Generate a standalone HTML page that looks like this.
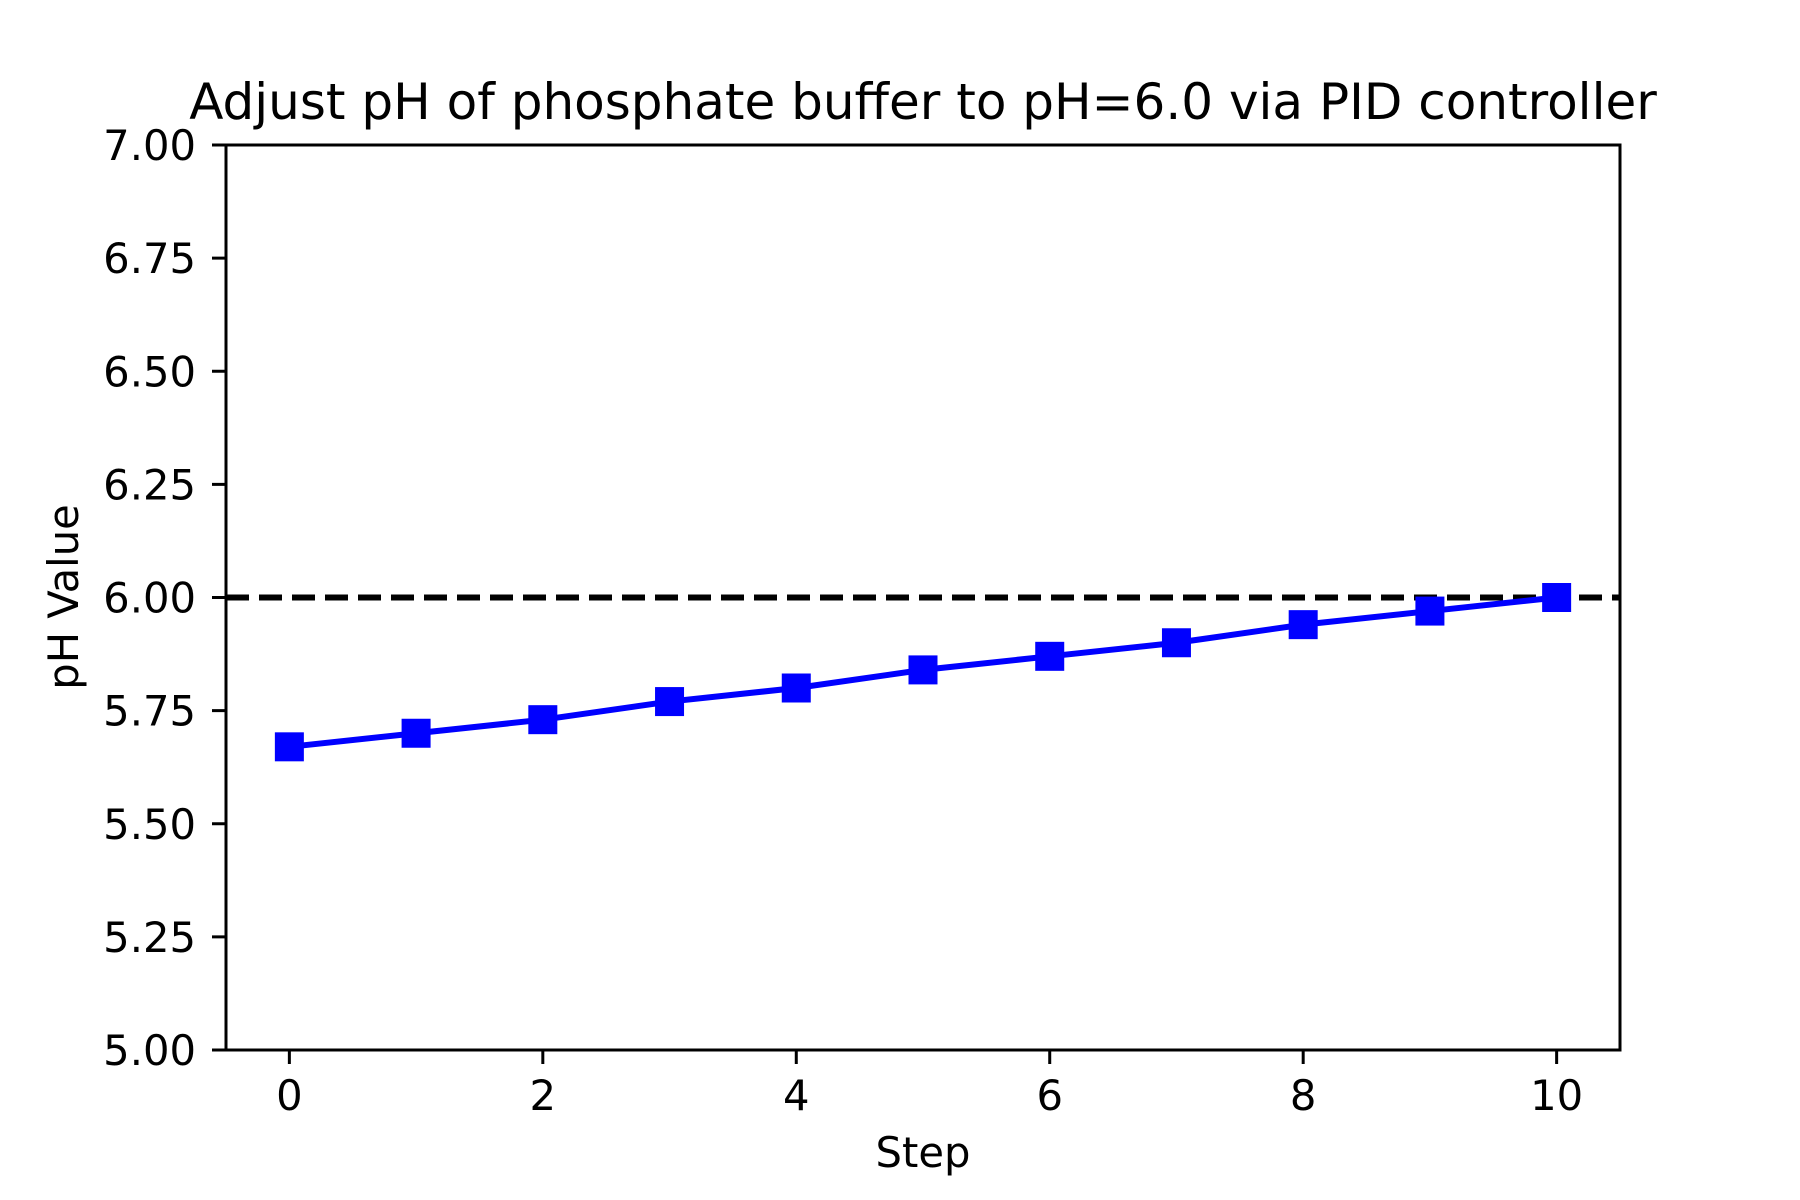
<!DOCTYPE html>
<html><head><meta charset="utf-8"><style>
html,body{margin:0;padding:0;background:#fff}
svg{display:block}
text{font-family:"DejaVu Sans","Liberation Sans",sans-serif;fill:#000}
</style></head><body>
<svg id="chart" width="1800" height="1200" viewBox="0 0 1800 1200" xmlns="http://www.w3.org/2000/svg">
<text x="923" y="119" font-size="50" text-anchor="middle">Adjust pH of phosphate buffer to pH=6.0 via PID controller</text>
<g id="plot"></g>
<text x="923" y="1167" font-size="41.7" text-anchor="middle">Step</text>
<text x="0" y="0" font-size="41.7" text-anchor="middle" transform="translate(78,597) rotate(-90)">pH Value</text>
</svg>
<script>
const steps = [0,1,2,3,4,5,6,7,8,9,10];
const phValues = [5.67,5.70,5.73,5.77,5.80,5.84,5.87,5.90,5.94,5.97,6.00];
const targetPh = [6.0];
const xTicks = [0,2,4,6,8,10];
const yTicks = [5.00,5.25,5.50,5.75,6.00,6.25,6.50,6.75,7.00];

const L=226,R=1620,T=145,B=1050;
const xMin=-0.5,xMax=10.5,yMin=5,yMax=7;
const xs=v=>L+(v-xMin)/(xMax-xMin)*(R-L);
const ys=v=>B-(v-yMin)/(yMax-yMin)*(B-T);
const NS="http://www.w3.org/2000/svg";
const g=document.getElementById('plot');
function mk(tag,attrs){const e=document.createElementNS(NS,tag);for(const k in attrs)e.setAttribute(k,attrs[k]);g.appendChild(e);return e;}

const tl=mk('line',{x1:L,x2:R,y1:ys(targetPh[0]),y2:ys(targetPh[0]),stroke:'#000','stroke-width':6,'stroke-dasharray':'23 10'});



const pl=mk('polyline',{points:steps.map((s,i)=>xs(s)+','+ys(phValues[i])).join(' '),fill:'none',stroke:'#0000ff','stroke-width':6});


steps.forEach((s,i)=>{
  const m=mk('rect',{x:xs(s)-14.5,y:ys(phValues[i])-14.5,width:29,height:29,fill:'#0000ff'});
  
  
});

const fr=mk('rect',{x:L,y:T,width:R-L,height:B-T,fill:'none',stroke:'#000','stroke-width':3});



xTicks.forEach(v=>{
  const t=mk('line',{x1:xs(v),x2:xs(v),y1:B,y2:B+14,stroke:'#000','stroke-width':3});
  
  
  const lb=mk('text',{x:xs(v),y:1110,'font-size':41.7,'text-anchor':'middle'});
  lb.textContent=v;
  
  
});
yTicks.forEach(v=>{
  const t=mk('line',{x1:L-14,x2:L,y1:ys(v),y2:ys(v),stroke:'#000','stroke-width':3});
  
  
  const lb=mk('text',{x:196,y:ys(v)+15,'font-size':41.7,'text-anchor':'end'});
  lb.textContent=v.toFixed(2);
  
  
});
</script>
</body></html>
